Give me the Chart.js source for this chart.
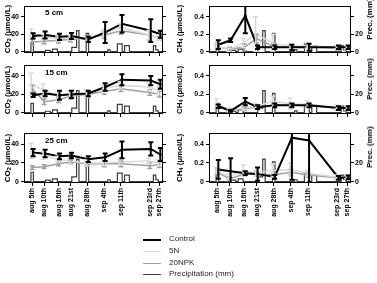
<!DOCTYPE html>
<html>
<head>
<meta charset="utf-8">
<script src="https://cdn.jsdelivr.net/npm/chart.js@4"></script>
<style>
body { margin: 0; background: #fff; width: 377px; height: 283px; position: relative; overflow: hidden;
       font-family: 'Liberation Sans', Arial, sans-serif; color: #000; }
.pane { position: absolute; }
.vt { position: absolute; transform: translate(-50%, -50%) rotate(-90deg); white-space: nowrap;
      font-weight: bold; font-size: 8px; line-height: 8px; }
.vt sub { font-size: 5.5px; vertical-align: -1px; line-height: 0; }
.depth { position: absolute; font-weight: bold; font-size: 8px; line-height: 8px; }
.leg { position: absolute; left: 143px; font-size: 8px; line-height: 8px; color: #222; }
.leg span { position: absolute; left: 0; width: 18px; top: 4px; }
.leg b { position: absolute; left: 26px; top: 0; font-weight: normal; white-space: nowrap; }
</style>
</head>
<body>

<script>
// sampling dates (day counted from aug 1st) and their labels
const sampleDays = [5, 10, 16, 21, 28, 35, 42, 54, 58];
const tickLabels = ['aug 5th', 'aug 10th', 'aug 16th', 'aug 21st', 'aug 28th', 'sep 4th', 'sep 11th', 'sep 23rd', 'sep 27th'];
const depths = ['5 cm', '15 cm', '25 cm'];

// CO2 (umol/L), one row per depth
const co2Control = [
    [18, 19, 17, 18, 14, 22, 32, 24, 20],
    [19, 21, 19, 20, 21, 28, 36, 35, 31],
    [31, 30, 27, 28, 24, 26, 34, 35, 29]
];
const co2ControlErr = [
    [3, 4, 3.5, 3.5, 3, 12, 10, 13, 4],
    [2, 3, 5, 4, 3, 4, 6, 5, 5],
    [4, 4, 3, 3, 3, 4, 9, 7, 7]
];
const co25N = [
    [22, 17, 15, 16, 14, 21, 28, 19, 16],
    [31, 25, 18, 20, 21, 26, 30, 28, 24],
    [33, 28, 24, 22, 20, 20, 21, 22, 20]
];
const co25NErr = [
    [4, 3, 3, 3, 3, 4, 4, 5, 3],
    [12, 6, 4, 4, 4, 4, 4, 4, 4],
    [8, 4, 3, 3, 3, 3, 3, 3, 3]
];
const co2NPK = [
    [11, 12, 13, 14, 16, 19, 24, 19, 16],
    [26, 12, 14, 18, 20, 23, 26, 22, 20],
    [15, 16, 19, 21, 19, 19, 19, 17, 18]
];
const co2NPKErr = [
    [3, 3, 3, 3, 3, 4, 4, 6, 3],
    [4, 3, 3, 3, 3, 3, 3, 3, 3],
    [2, 2, 2, 2, 2, 3, 3, 3, 3]
];

// CH4 (umol/L), one row per depth
const ch4Control = [
    [0.08, 0.13, 0.41, 0.05, 0.05, 0.05, 0.05, 0.05, 0.05],
    [0.07, 0.02, 0.12, 0.06, 0.08, 0.08, 0.08, 0.05, 0.05],
    [0.13, 0.11, 0.09, 0.08, 0.05, 0.47, 0.44, 0.04, 0.045]
];
const ch4ControlErr = [
    [0.05, 0.02, 0.2, 0.02, 0.02, 0.03, 0.04, 0.02, 0.02],
    [0.02, 0.01, 0.04, 0.02, 0.02, 0.02, 0.02, 0.02, 0.02],
    [0.1, 0.14, 0.02, 0.07, 0.02, 0.45, 0.45, 0.02, 0.02]
];
const ch45N = [
    [0.07, 0.02, 0.1, 0.2, 0.1, 0.06, 0.07, 0.05, 0.05],
    [0.1, 0.03, 0.05, 0.07, 0.12, 0.1, 0.09, 0.06, 0.05],
    [0.12, 0.05, 0.12, 0.09, 0.12, 0.13, 0.09, 0.05, 0.05]
];
const ch45NErr = [
    [0.03, 0.02, 0.05, 0.2, 0.1, 0.03, 0.03, 0.02, 0.02],
    [0.05, 0.02, 0.02, 0.03, 0.06, 0.06, 0.04, 0.02, 0.02],
    [0.03, 0.03, 0.06, 0.03, 0.07, 0.07, 0.03, 0.02, 0.02]
];
const ch4NPK = [
    [0.05, 0.03, 0.05, 0.15, 0.06, 0.05, 0.06, 0.04, 0.05],
    [0.06, 0.03, 0.04, 0.06, 0.08, 0.08, 0.08, 0.05, 0.05],
    [0.1, 0.03, 0.08, 0.08, 0.07, 0.1, 0.07, 0.04, 0.05]
];
const ch4NPKErr = [
    [0.03, 0.02, 0.04, 0.05, 0.03, 0.02, 0.02, 0.02, 0.02],
    [0.02, 0.01, 0.02, 0.02, 0.02, 0.02, 0.02, 0.02, 0.02],
    [0.03, 0.02, 0.02, 0.02, 0.02, 0.03, 0.02, 0.02, 0.02]
];

// daily precipitation (mm), only rainy days listed
const rainDays = [5, 11, 12, 14, 15, 22, 23, 24, 28, 37, 41, 42, 44, 45, 56, 57];
const rainMm = [10, 1.5, 1.5, 3, 3, 5, 5, 24, 21, 2, 9, 9, 7, 7, 7, 2];

const co2Ticks = [0, 10, 20, 30, 40, 50];
const co2TickLabels = ['0', '', '20', '', '40', ''];
const ch4Ticks = [0, 0.1, 0.2, 0.3, 0.4, 0.5];
const ch4TickLabels = ['0', '', '0.2', '', '0.4', ''];
const precTicks = [0, 10, 20, 30, 40, 50];
const precTickLabels = ['0', '', '20', '', '', ''];

const legendNames = ['Control', '5N', '20NPK', 'Precipitation (mm)'];
const lineColors = ['#000000', '#d9d9d9', '#a0a0a0', '#3c3c3c'];

// layout of the three rows: canvas top, canvas height, frame top, frame bottom
const rows = [
    {top: 0, h: 62, frameTop: 5, frameBottom: 53},
    {top: 58, h: 67, frameTop: 65, frameBottom: 114},
    {top: 125, h: 105, frameTop: 133, frameBottom: 183}
];

Chart.defaults.font.family = "'Liberation Sans', Arial, sans-serif";
Chart.defaults.color = '#000';

const precipSeries = [];
for (let d = 1; d <= 60; d++) {
    const k = rainDays.indexOf(d);
    precipSeries.push({x: d, y: k >= 0 ? rainMm[k] : 0});
}

const errorBars = {
    id: 'errorBars',
    afterDatasetsDraw(chart) {
        const ctx = chart.ctx, a = chart.chartArea;
        ctx.save();
        ctx.beginPath();
        ctx.rect(a.left, a.top, a.right - a.left, a.bottom - a.top);
        ctx.clip();
        const sets = chart.data.datasets.slice().reverse();
        for (const ds of sets) {
            if (!ds.errors) continue;
            const xs = chart.scales.x, ys = chart.scales[ds.yAxisID];
            ctx.strokeStyle = ds.borderColor;
            ctx.lineWidth = ds.borderWidth;
            ds.data.forEach((p, i) => {
                const e = ds.errors[i];
                const x = xs.getPixelForValue(p.x);
                const y1 = ys.getPixelForValue(p.y + e);
                const y2 = ys.getPixelForValue(p.y - e);
                const cap = 2.5;
                ctx.beginPath();
                ctx.moveTo(x, y1); ctx.lineTo(x, y2);
                ctx.moveTo(x - cap, y1); ctx.lineTo(x + cap, y1);
                ctx.moveTo(x - cap, y2); ctx.lineTo(x + cap, y2);
                ctx.stroke();
            });
        }
        ctx.restore();
    }
};

const frame = {
    id: 'frame',
    afterDraw(chart) {
        const a = chart.chartArea, ctx = chart.ctx;
        ctx.save();
        ctx.strokeStyle = '#000';
        ctx.lineWidth = 1;
        ctx.strokeRect(Math.round(a.left) + 0.5, Math.round(a.top) + 0.5,
            Math.round(a.right - a.left) - 1, Math.round(a.bottom - a.top) - 1);
        ctx.restore();
    }
};

function tickGrid() {
    return {display: true, drawOnChartArea: false, drawTicks: true, tickLength: 3, color: '#000', lineWidth: 1};
}

function makePanel(row, gas) {
    const isCo2 = gas === 'co2';
    const r = rows[row];
    const left = isCo2 ? 0 : 168;
    const width = isCo2 ? 185 : 209;
    const leftW = isCo2 ? 24 : 41;
    const rightW = isCo2 ? 22 : 26;

    const div = document.createElement('div');
    div.className = 'pane';
    div.style.left = left + 'px';
    div.style.top = r.top + 'px';
    const canvas = document.createElement('canvas');
    canvas.width = width;
    canvas.height = r.h;
    div.appendChild(canvas);
    document.body.appendChild(div);

    const vals = isCo2 ? [co2Control, co25N, co2NPK] : [ch4Control, ch45N, ch4NPK];
    const errs = isCo2 ? [co2ControlErr, co25NErr, co2NPKErr] : [ch4ControlErr, ch45NErr, ch4NPKErr];
    const widths = [2, 1.5, 1.5];
    const dodge = [0.4, -0.4, 0];

    const datasets = vals.map((v, k) => ({
        label: legendNames[k],
        data: sampleDays.map((d, i) => ({x: d + dodge[k], y: v[row][i]})),
        errors: errs[k][row],
        borderColor: lineColors[k],
        backgroundColor: lineColors[k],
        borderWidth: widths[k],
        pointRadius: 1.3,
        pointBorderWidth: 0,
        yAxisID: 'y'
    }));
    datasets.push({
        label: legendNames[3],
        data: precipSeries,
        stepped: 'middle',
        borderColor: lineColors[3],
        borderWidth: 1.2,
        pointRadius: 0,
        yAxisID: 'yp'
    });

    const yTicks = isCo2 ? co2Ticks : ch4Ticks;
    const yLabels = isCo2 ? co2TickLabels : ch4TickLabels;
    const tickFont = {size: 7, weight: 'bold'};

    new Chart(canvas, {
        type: 'line',
        data: {datasets: datasets},
        options: {
            responsive: false,
            devicePixelRatio: 1,
            animation: false,
            layout: {padding: {top: r.frameTop - r.top, left: 0, right: 0, bottom: 0}},
            plugins: {legend: {display: false}, tooltip: {enabled: false}},
            scales: {
                x: {
                    type: 'linear', min: 1.6, max: 59.5,
                    afterFit: s => { s.height = r.top + r.h - r.frameBottom; },
                    afterBuildTicks: s => { s.ticks = sampleDays.map(v => ({value: v})); },
                    grid: tickGrid(),
                    border: {display: false},
                    ticks: {
                        autoSkip: false, minRotation: 90, maxRotation: 90, padding: 2,
                        font: tickFont,
                        callback: (v, i) => row === 2 ? tickLabels[i] : ''
                    }
                },
                y: {
                    position: 'left',
                    min: isCo2 ? -1.5 : -0.015, max: isCo2 ? 52 : 0.52,
                    afterFit: s => { s.width = leftW; },
                    afterBuildTicks: s => { s.ticks = yTicks.map(v => ({value: v})); },
                    grid: tickGrid(),
                    border: {display: false},
                    ticks: {padding: 2, font: tickFont, callback: (v, i) => yLabels[i]}
                },
                yp: {
                    position: 'right',
                    min: -1.5, max: 52,
                    afterFit: s => { s.width = rightW; },
                    afterBuildTicks: s => { s.ticks = precTicks.map(v => ({value: v})); },
                    grid: tickGrid(),
                    border: {display: false},
                    ticks: {padding: 1, font: tickFont, callback: (v, i) => isCo2 ? '' : precTickLabels[i]}
                }
            }
        },
        plugins: [errorBars, frame]
    });

    // axis titles and depth label
    const mid = (r.frameTop + r.frameBottom) / 2;
    const t = document.createElement('div');
    t.className = 'vt';
    t.style.left = (isCo2 ? 8 : 180) + 'px';
    t.style.top = mid + 'px';
    t.innerHTML = isCo2 ? 'CO<sub>2</sub> (µmol/L)' : 'CH<sub>4</sub> (µmol/L)';
    document.body.appendChild(t);

    if (isCo2) {
        const dl = document.createElement('div');
        dl.className = 'depth';
        dl.style.left = '45px';
        dl.style.top = (r.frameTop + 3.5) + 'px';
        dl.textContent = depths[row];
        document.body.appendChild(dl);
    } else {
        const pt = document.createElement('div');
        pt.className = 'vt';
        pt.style.left = '370px';
        pt.style.top = (r.frameTop + 14) + 'px';
        pt.textContent = 'Prec. (mm)';
        document.body.appendChild(pt);
    }
}

for (let row = 0; row < 3; row++) {
    makePanel(row, 'co2');
    makePanel(row, 'ch4');
}

// legend
const legendWidths = [2, 1.5, 1.5, 1.5];
legendNames.forEach((name, i) => {
    const item = document.createElement('div');
    item.className = 'leg';
    item.style.top = (235 + i * 11.8) + 'px';
    item.innerHTML = '<span style="border-top:' + legendWidths[i] + 'px solid ' + lineColors[i] + '"></span><b>' + name + '</b>';
    document.body.appendChild(item);
});
</script>
</body>
</html>
